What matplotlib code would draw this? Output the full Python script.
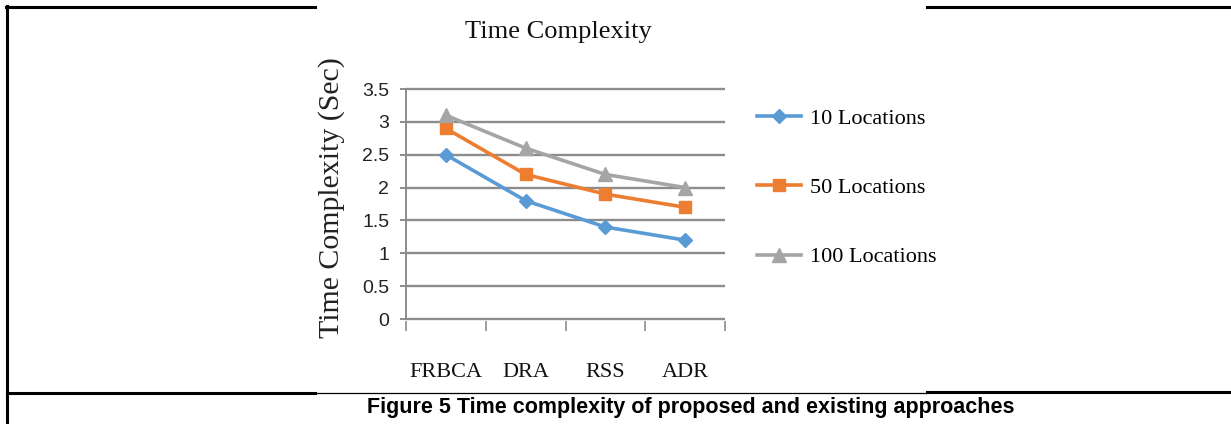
import matplotlib
matplotlib.use("Agg")
import matplotlib.pyplot as plt
from matplotlib.lines import Line2D

categories = ["FRBCA", "DRA", "RSS", "ADR"]
series_names = ["10 Locations", "50 Locations", "100 Locations"]
loc10 = [2.5, 1.8, 1.4, 1.2]
loc50 = [2.9, 2.2, 1.9, 1.7]
loc100 = [3.1, 2.6, 2.2, 2.0]
yticks = [0, 0.5, 1, 1.5, 2, 2.5, 3, 3.5]
ytick_labels = ["0", "0.5", "1", "1.5", "2", "2.5", "3", "3.5"]

colors = ["#5B9BD5", "#ED7D31", "#A5A5A5"]
markers = ["D", "s", "^"]
msizes = [7, 8.5, 9.5]

W, H = 1231, 424
fig = plt.figure(figsize=(W / 100, H / 100), dpi=100)

def fx(px):
    return px / W

def fy(py):
    return 1 - py / H

# axes geometry (pixels): x 406..725, y(0)=319, y(3.5)=89
pad = 0.03
ppu = (319 - 89) / 3.5
top_px = 89 - pad * ppu
bot_px = 319 + pad * ppu
ax = fig.add_axes([fx(406), fy(bot_px), fx(725) - fx(406), fy(top_px) - fy(bot_px)])
ax.set_xlim(-0.5, len(categories) - 0.5)
ax.set_ylim(-pad, 3.5 + pad)

grid_col = "#8C8C8C"
ax.set_yticks(yticks)
ax.set_yticklabels(ytick_labels, family=["Liberation Sans Narrow", "Liberation Sans"], fontsize=14, color="#222222")
ax.yaxis.grid(True, color=grid_col, linewidth=1.7)
ax.set_axisbelow(True)
ax.tick_params(axis="y", direction="out", length=4, width=1.4, color=grid_col, pad=8)

xs = list(range(len(categories)))
ax.set_xticks(xs)
ax.set_xticklabels(categories, family="Liberation Serif", fontsize=16, color="#111111")
ax.tick_params(axis="x", which="major", length=0, pad=30)
ax.set_xticks([i - 0.5 for i in range(len(categories) + 1)], minor=True)
ax.tick_params(axis="x", which="minor", direction="out", length=7, width=1.2, color=grid_col)

for s in ["top", "right", "bottom"]:
    ax.spines[s].set_visible(False)
ax.spines["left"].set_color(grid_col)
ax.spines["left"].set_linewidth(1.4)
ax.spines["left"].set_bounds(0, 3.5)

handles = []
for vals, name, c, m, ms in zip([loc10, loc50, loc100], series_names, colors, markers, msizes):
    h, = ax.plot(xs, vals, color=c, linewidth=2.6, marker=m, markersize=ms,
                 markerfacecolor=c, markeredgecolor=c, label=name, clip_on=False, zorder=3)
    handles.append(h)

leg = fig.legend(handles=handles, labels=series_names, loc="upper left",
                 bbox_to_anchor=(fx(757), fy(108)), frameon=False, borderpad=0,
                 borderaxespad=0, handlelength=2.0, handletextpad=0.4,
                 labelspacing=2.2, prop={"family": "Liberation Serif", "size": 16})

fig.text(fx(558), fy(32), "Time Complexity", ha="center", va="center",
         family="Liberation Serif", fontsize=19, color="#111111")
fig.text(fx(332), fy(198), "Time Complexity (Sec)", ha="center", va="center", rotation=90,
         family="Liberation Serif", fontsize=21.5, color="#222222")

fig.text(fx(691), fy(408), "Figure 5 Time complexity of proposed and existing approaches",
         ha="center", va="center", family="Liberation Sans", fontweight="bold",
         fontsize=15.5, color="black")

# table border lines
def hline(x0, x1, y, lw):
    fig.add_artist(Line2D([fx(x0), fx(x1)], [fy(y), fy(y)], color="black", linewidth=lw,
                          transform=fig.transFigure))

def vline(x, y0, y1, lw):
    fig.add_artist(Line2D([fx(x), fx(x)], [fy(y0), fy(y1)], color="black", linewidth=lw,
                          transform=fig.transFigure))

hline(6, 315, 7, 2.2)
hline(927, 1231, 7, 2.2)
vline(7, 6, 424, 2.2)
hline(7, 315, 393, 2.2)
hline(927, 1231, 392, 2.2)
hline(315, 927, 392.5, 0.9)

fig.savefig("out.png", dpi=100, facecolor="white")
